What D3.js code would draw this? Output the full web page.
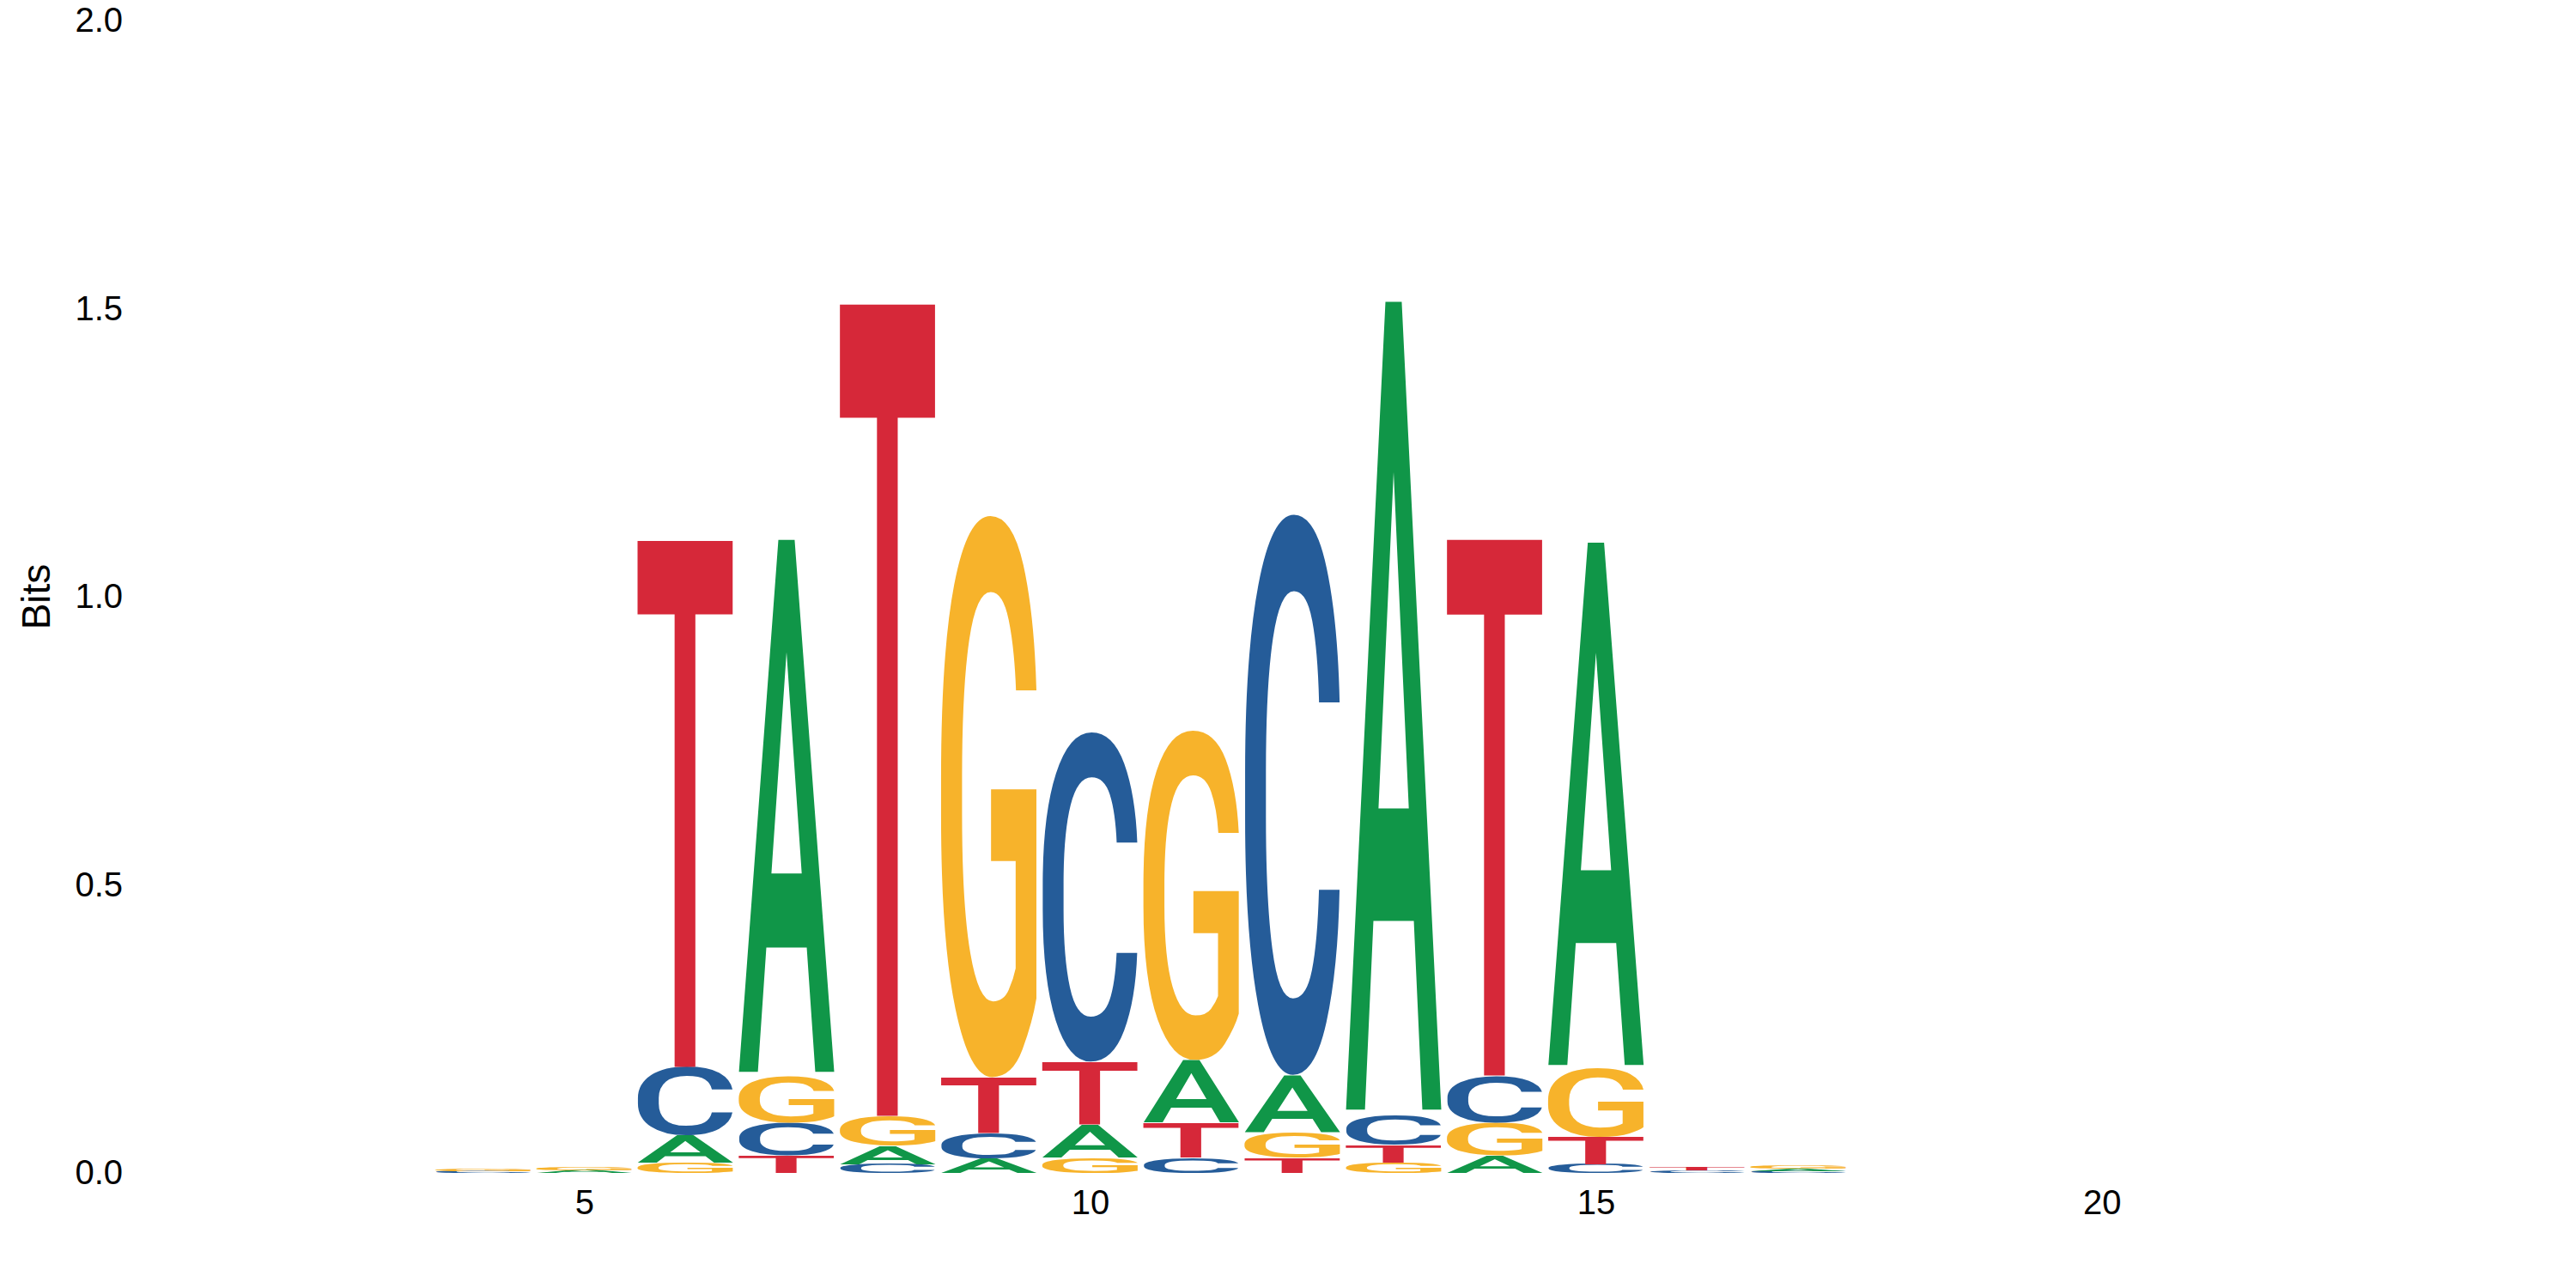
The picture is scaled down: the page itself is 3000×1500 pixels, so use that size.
<!DOCTYPE html>
<html>
<head>
<meta charset="utf-8">
<script src="https://cdn.jsdelivr.net/npm/d3@7"></script>
<style>
  body { margin: 0; background: #fff; }
  svg { display: block; }
</style>
</head>
<body>
<script>
// sequence logo, heights in bits per position
const positions = [1,2,3,4,5,6,7,8,9,10,11,12,13,14,15,16,17,18,19,20,21,22,23,24]
const bitsA = [0,0,0,0,0.005,0.047,0.935,0.032,0.025,0.057,0.109,0.099,1.42,0.030,0.918,0,0.004,0,0,0,0,0,0,0]
const bitsC = [0,0,0,0.003,0,0.119,0.057,0.015,0.044,0.575,0.027,0.978,0.052,0.082,0.015,0.004,0.003,0,0,0,0,0,0,0]
const bitsG = [0,0,0,0.003,0.006,0.018,0.082,0.052,0.98,0.027,0.575,0.045,0.018,0.057,0.119,0,0.005,0,0,0,0,0,0,0]
const bitsT = [0,0,0,0,0,0.918,0.030,1.416,0.097,0.109,0.060,0.026,0.030,0.935,0.047,0.005,0,0,0,0,0,0,0,0]
const yTicks = [0, 0.5, 1, 1.5, 2]
const xTicks = [5, 10, 15, 20]

const letters = ['A','C','G','T']
const colors = {A:'#109648', C:'#255C99', G:'#F7B32B', T:'#D62839'}

let width = 3000
let height = 1500
let stackWidth = 0.95
let letterFont = '500 200px "Roboto Medium", Roboto'

const svg = d3.select('body').append('svg')
  .attr('width', width).attr('height', height)

const x = d3.scaleLinear().domain([0.5, 24.5]).range([150, 2978])
const y = d3.scaleLinear().domain([0, 2]).range([1366, 24])

// measure ink box of each glyph so it can be stretched to fill its slot
const ctx = document.createElement('canvas').getContext('2d')
ctx.font = letterFont
const ink = {}
letters.forEach(l => {
  let m = ctx.measureText(l)
  ink[l] = {left: m.actualBoundingBoxLeft, right: m.actualBoundingBoxRight,
            asc: m.actualBoundingBoxAscent, desc: m.actualBoundingBoxDescent}
})

let stacks = []
positions.forEach((p, i) => {
  let col = [
    {l:'A', v:bitsA[i]}, {l:'C', v:bitsC[i]}, {l:'G', v:bitsG[i]}, {l:'T', v:bitsT[i]}
  ].filter(d => d.v > 0).sort((a, b) => a.v - b.v)
  let base = 0
  col.forEach(d => {
    stacks.push({pos:p, l:d.l, y0:base, y1:base + d.v})
    base += d.v
  })
})

const half = (x(2) - x(1)) * stackWidth / 2

svg.append('g').attr('class','logo')
  .selectAll('text')
  .data(stacks)
  .enter()
  .append('text')
  .text(d => d.l)
  .attr('fill', d => colors[d.l])
  .style('font', letterFont)
  .attr('transform', d => {
    let g = ink[d.l]
    let w = 2 * half
    let h = y(d.y0) - y(d.y1)
    let sx = w / (g.left + g.right)
    let sy = h / (g.asc + g.desc)
    return `translate(${x(d.pos) - half},${y(d.y1)}) scale(${sx},${sy}) translate(${g.left},${g.asc})`
  })

const yAxis = d3.axisLeft(y).tickValues(yTicks).tickFormat(d3.format('.1f')).tickSize(0).tickPadding(7)
svg.append('g')
  .attr('transform', `translate(${x(0.5)},0)`)
  .call(yAxis)
  .call(g => g.select('.domain').remove())
  .selectAll('text')
  .style('font-family', '"Liberation Sans", Arial, sans-serif')
  .style('font-size', '40px')
  .attr('fill', '#000')

const xAxis = d3.axisBottom(x).tickValues(xTicks).tickSize(0).tickPadding(20)
svg.append('g')
  .attr('transform', `translate(0,${y(0)})`)
  .call(xAxis)
  .call(g => g.select('.domain').remove())
  .selectAll('text')
  .style('font-family', '"Liberation Sans", Arial, sans-serif')
  .style('font-size', '40px')
  .attr('fill', '#000')

svg.append('text')
  .text('Bits')
  .attr('transform', `translate(58,${y(1)}) rotate(-90)`)
  .attr('text-anchor', 'middle')
  .style('font-family', '"Liberation Sans", Arial, sans-serif')
  .style('font-size', '46px')
</script>
</body>
</html>
